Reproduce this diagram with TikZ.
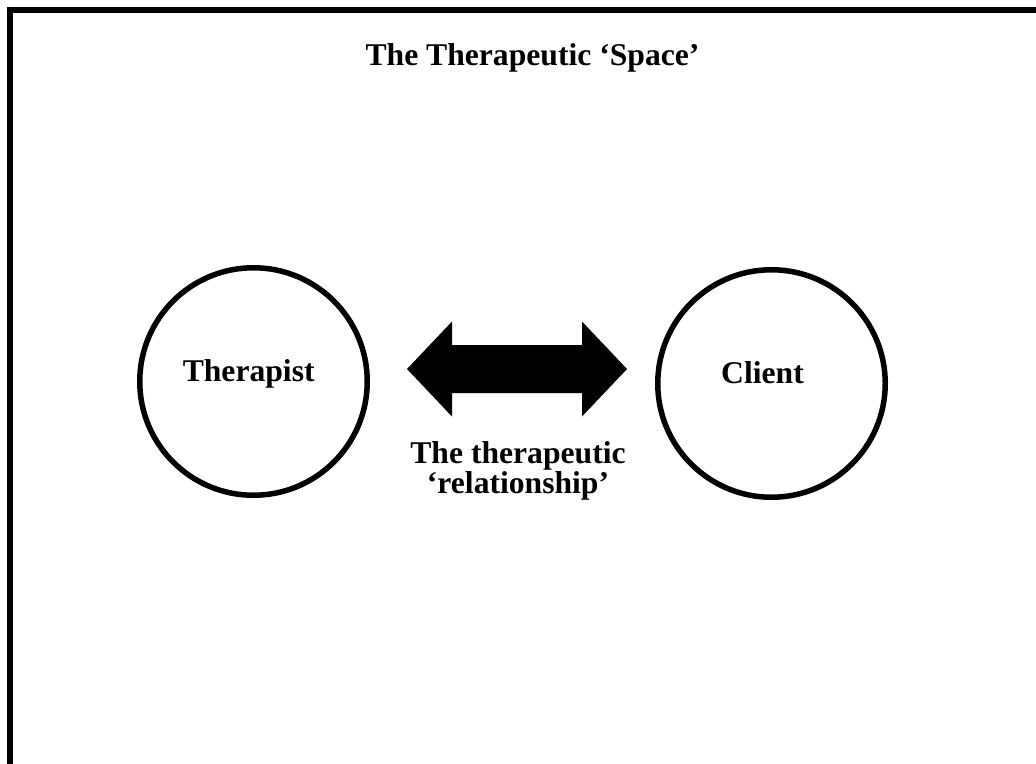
\documentclass[tikz,border=0pt]{standalone}
\usepackage{fontspec}
\setmainfont{Liberation Serif}

\begin{document}
\begin{tikzpicture}[
      font=\fontsize{22.5}{19.2}\selectfont\bfseries,
      person/.style={circle, draw=black, line width=0.1375cm, minimum size=5.6875cm, inner sep=0pt}
    ]
      \useasboundingbox (0,0) rectangle (25.9,-19.075);
      \clip (0,0) rectangle (25.9,-19.075);
      \draw[line width=0.15cm] (0.25,-0.25) rectangle (27,-20);

      \node[anchor=base] (titel) at (13.3125,-1.625) {The Therapeutic ‘Space’};

      \node[person] (therapist) at (6.3375,-9.5375) {};
      \node[anchor=base] (therapisttext) at (6.2175,-9.525) {Therapist};

      \node[person] (client) at (19.2875,-9.5875) {};
      \node[anchor=base] (clienttext) at (19.0625,-9.575) {Client};

      \coordinate (beziehung) at (12.925,-9.225);
      \fill[black] ([xshift=-2.75cm]beziehung) -- ++(1.125,1.1875) -- ++(0,-0.5875) -- ++(3.25,0)
        -- ++(0,0.5875) -- ++(1.125,-1.1875) -- ++(-1.125,-1.1875) -- ++(0,0.5875) -- ++(-3.25,0)
        -- ++(0,-0.5875) -- cycle;
      \node[anchor=north, align=center, inner sep=0pt] (beziehungtext) at (12.95,-11.025)
        {The therapeutic\\ ‘relationship’};
    \end{tikzpicture}
\end{document}
